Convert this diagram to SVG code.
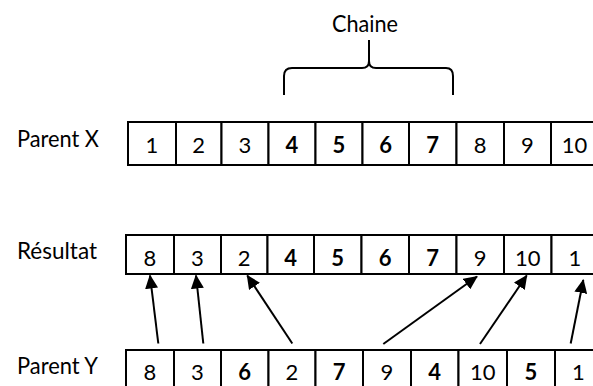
<svg xmlns="http://www.w3.org/2000/svg" width="593" height="386" viewBox="0 0 593 386">
<defs>
<style>
.lbl{font-family:Lato,"Liberation Sans",sans-serif;font-size:23px;fill:#000}
.num{font-family:Lato,"Liberation Sans",sans-serif;font-size:22px;fill:#000;text-anchor:middle}
.b{font-weight:700}
.cell{fill:#fff;stroke:#000;stroke-width:2}
.conn{stroke:#000;stroke-width:2;fill:none}
</style>
<marker id="ah" markerUnits="userSpaceOnUse" markerWidth="14" markerHeight="13" refX="13" refY="6.5" orient="auto">
<path d="M0,0 L14,6.5 L0,13 z" fill="#000"/>
</marker>
</defs>
<rect width="593" height="386" fill="#fff"/>

<g id="chaine">
<text class="lbl" x="365" y="31.5" text-anchor="middle" textLength="66" lengthAdjust="spacingAndGlyphs">Chaine</text>
<path class="conn" d="M284,95 L284,76 Q284,68 292,68 L362,68 Q369,68 369,61 L369,40 M369,61 Q369,68 376,68 L446,68 Q453,68 453,76 L453,95"/>
</g>

<g id="label-x"><text class="lbl" x="17" y="146.5" textLength="82" lengthAdjust="spacingAndGlyphs">Parent X</text></g>
<g id="label-r"><text class="lbl" x="17" y="259" textLength="80" lengthAdjust="spacingAndGlyphs">Résultat</text></g>
<g id="label-y"><text class="lbl" x="17" y="373.5" textLength="81" lengthAdjust="spacingAndGlyphs">Parent Y</text></g>

<g id="parent-x">
<g id="x1"><rect class="cell" x="128" y="122" width="48" height="43"/><text class="num" x="152" y="153">1</text></g>
<g id="x2"><rect class="cell" x="176" y="122" width="45.5" height="43"/><text class="num" x="198.7" y="153">2</text></g>
<g id="x3"><rect class="cell" x="221.5" y="122" width="47" height="43"/><text class="num" x="245" y="153">3</text></g>
<g id="x4"><rect class="cell" x="268.5" y="122" width="47" height="43"/><text class="num b" x="292" y="153">4</text></g>
<g id="x5"><rect class="cell" x="315.5" y="122" width="47" height="43"/><text class="num b" x="339" y="153">5</text></g>
<g id="x6"><rect class="cell" x="362.5" y="122" width="46.5" height="43"/><text class="num b" x="385.7" y="153">6</text></g>
<g id="x7"><rect class="cell" x="409" y="122" width="47.5" height="43"/><text class="num b" x="432.7" y="153">7</text></g>
<g id="x8"><rect class="cell" x="456.5" y="122" width="47.5" height="43"/><text class="num" x="480.2" y="153">8</text></g>
<g id="x9"><rect class="cell" x="504" y="122" width="47" height="43"/><text class="num" x="527.5" y="153">9</text></g>
<g id="x10"><rect class="cell" x="551" y="122" width="50" height="43"/><text class="num" x="574.5" y="153">10</text></g>
</g>

<g id="resultat">
<g id="r1"><rect class="cell" x="126" y="235" width="48" height="39"/><text class="num" x="150" y="266">8</text></g>
<g id="r2"><rect class="cell" x="174" y="235" width="47" height="39"/><text class="num" x="197.5" y="266">3</text></g>
<g id="r3"><rect class="cell" x="221" y="235" width="46.5" height="39"/><text class="num" x="244.2" y="266">2</text></g>
<g id="r4"><rect class="cell" x="267.5" y="235" width="46.5" height="39"/><text class="num b" x="290.7" y="266">4</text></g>
<g id="r5"><rect class="cell" x="314" y="235" width="47.5" height="39"/><text class="num b" x="337.7" y="266">5</text></g>
<g id="r6"><rect class="cell" x="361.5" y="235" width="47.5" height="39"/><text class="num b" x="385.2" y="266">6</text></g>
<g id="r7"><rect class="cell" x="409" y="235" width="47.5" height="39"/><text class="num b" x="432.7" y="266">7</text></g>
<g id="r8"><rect class="cell" x="456.5" y="235" width="47.5" height="39"/><text class="num" x="480.2" y="266">9</text></g>
<g id="r9"><rect class="cell" x="504" y="235" width="47.5" height="39"/><text class="num" x="527.7" y="266">10</text></g>
<g id="r10"><rect class="cell" x="551.5" y="235" width="50" height="39"/><text class="num" x="575" y="266">1</text></g>
</g>

<g id="parent-y">
<g id="y1"><rect class="cell" x="126" y="350" width="48" height="42"/><text class="num" x="150" y="380">8</text></g>
<g id="y2"><rect class="cell" x="174" y="350" width="47" height="42"/><text class="num" x="197.5" y="380">3</text></g>
<g id="y3"><rect class="cell" x="221" y="350" width="47.5" height="42"/><text class="num b" x="244.7" y="380">6</text></g>
<g id="y4"><rect class="cell" x="268.5" y="350" width="47" height="42"/><text class="num" x="292" y="380">2</text></g>
<g id="y5"><rect class="cell" x="315.5" y="350" width="47.5" height="42"/><text class="num b" x="339.2" y="380">7</text></g>
<g id="y6"><rect class="cell" x="363" y="350" width="48" height="42"/><text class="num" x="387" y="380">9</text></g>
<g id="y7"><rect class="cell" x="411" y="350" width="47.5" height="42"/><text class="num b" x="434.7" y="380">4</text></g>
<g id="y8"><rect class="cell" x="458.5" y="350" width="48.5" height="42"/><text class="num" x="482.7" y="380">10</text></g>
<g id="y9"><rect class="cell" x="507" y="350" width="48" height="42"/><text class="num b" x="531" y="380">5</text></g>
<g id="y10"><rect class="cell" x="555" y="350" width="50" height="42"/><text class="num" x="578.5" y="380">1</text></g>
</g>

<g id="connectors">
<line class="conn" x1="158.3" y1="343.5" x2="150" y2="275.5" marker-end="url(#ah)"/>
<line class="conn" x1="203.3" y1="343.5" x2="196" y2="275.5" marker-end="url(#ah)"/>
<line class="conn" x1="292.3" y1="343.5" x2="247.3" y2="275.5" marker-end="url(#ah)"/>
<line class="conn" x1="383.3" y1="344" x2="477" y2="276.5" marker-end="url(#ah)"/>
<line class="conn" x1="480" y1="344" x2="526.7" y2="275.5" marker-end="url(#ah)"/>
<line class="conn" x1="570.7" y1="343.5" x2="583.3" y2="280" marker-end="url(#ah)"/>
</g>
</svg>
